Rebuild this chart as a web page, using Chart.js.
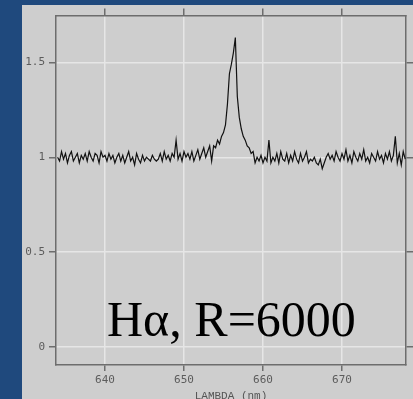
<!DOCTYPE html>
<html>
<head>
<meta charset="utf-8">
<script src="https://cdn.jsdelivr.net/npm/chart.js@4"></script>
<style>
  html, body { margin: 0; padding: 0; }
  body { width: 413px; height: 399px; background: #1f497d; overflow: hidden; position: relative; }
  #panel { position: absolute; left: 22px; top: 5px; width: 391px; height: 394px; background: #cecece; }
  #label { position: absolute; left: 85px; top: 289px; font-family: 'Liberation Serif', serif; font-size: 50px; line-height: 1; color: #000; white-space: nowrap; }
</style>
</head>
<body>
<div id="panel">
  <canvas id="spec"></canvas>
  <div id="label">Hα, R=6000</div>
</div>
<script>
// wavelength grid (nm)
const lambda = [
  634.00, 634.25, 634.50, 634.75, 635.00, 635.25, 635.50, 635.75,
  636.00, 636.25, 636.50, 636.75, 637.00, 637.25, 637.50, 637.75,
  638.00, 638.25, 638.50, 638.75, 639.00, 639.25, 639.50, 639.75,
  640.00, 640.25, 640.50, 640.75, 641.00, 641.25, 641.50, 641.75,
  642.00, 642.25, 642.50, 642.75, 643.00, 643.25, 643.50, 643.75,
  644.00, 644.25, 644.50, 644.75, 645.00, 645.25, 645.50, 645.75,
  646.00, 646.25, 646.50, 646.75, 647.00, 647.25, 647.50, 647.75,
  648.00, 648.25, 648.50, 648.75, 649.00, 649.25, 649.50, 649.75,
  650.00, 650.25, 650.50, 650.75, 651.00, 651.25, 651.50, 651.75,
  652.00, 652.25, 652.50, 652.75, 653.00, 653.25, 653.50, 653.75,
  654.00, 654.25, 654.50, 654.75, 655.00, 655.25, 655.50, 655.75,
  656.00, 656.25, 656.50, 656.75, 657.00, 657.25, 657.50, 657.75,
  658.00, 658.25, 658.50, 658.75, 659.00, 659.25, 659.50, 659.75,
  660.00, 660.25, 660.50, 660.75, 661.00, 661.25, 661.50, 661.75,
  662.00, 662.25, 662.50, 662.75, 663.00, 663.25, 663.50, 663.75,
  664.00, 664.25, 664.50, 664.75, 665.00, 665.25, 665.50, 665.75,
  666.00, 666.25, 666.50, 666.75, 667.00, 667.25, 667.50, 667.75,
  668.00, 668.25, 668.50, 668.75, 669.00, 669.25, 669.50, 669.75,
  670.00, 670.25, 670.50, 670.75, 671.00, 671.25, 671.50, 671.75,
  672.00, 672.25, 672.50, 672.75, 673.00, 673.25, 673.50, 673.75,
  674.00, 674.25, 674.50, 674.75, 675.00, 675.25, 675.50, 675.75,
  676.00, 676.25, 676.50, 676.75, 677.00, 677.25, 677.50, 677.75,
  678.00
];

// normalised flux
const flux = [
  1.00, 0.98, 1.03, 0.99, 1.02, 0.97, 1.01, 1.03,
  0.98, 1.00, 1.02, 0.97, 1.01, 0.99, 1.02, 0.98,
  1.03, 1.00, 0.98, 1.02, 1.01, 0.97, 1.03, 1.00,
  1.01, 0.98, 1.02, 0.99, 1.01, 0.97, 1.00, 1.02,
  0.98, 1.01, 0.97, 1.00, 1.03, 0.98, 1.00, 0.96,
  1.02, 0.99, 0.97, 1.01, 0.98, 1.00, 0.99, 0.98,
  1.01, 0.99, 0.98, 0.99, 1.02, 0.98, 1.03, 0.99,
  1.01, 0.98, 1.02, 1.00, 1.09, 0.99, 1.02, 0.98,
  1.03, 1.00, 1.02, 0.99, 1.03, 0.98, 1.01, 1.04,
  0.99, 1.02, 1.05, 1.00, 1.03, 1.06, 0.98, 1.06,
  1.05, 1.09, 1.07, 1.11, 1.13, 1.17, 1.28, 1.44,
  1.49, 1.55, 1.63, 1.32, 1.21, 1.15, 1.11, 1.09,
  1.06, 1.05, 1.02, 1.03, 0.97, 1.00, 0.98, 1.01,
  0.97, 1.00, 0.98, 1.09, 0.97, 1.00, 0.98, 1.02,
  0.97, 1.03, 0.99, 0.98, 1.02, 0.97, 1.01, 0.98,
  1.03, 0.99, 0.97, 1.02, 0.98, 1.00, 1.03, 0.97,
  0.99, 0.98, 1.00, 0.97, 0.96, 0.99, 0.94, 0.97,
  1.00, 1.02, 0.99, 1.01, 0.98, 1.03, 1.00, 0.98,
  1.02, 0.99, 1.04, 0.98, 1.01, 0.97, 1.03, 1.00,
  0.98, 1.02, 0.99, 1.04, 0.98, 1.00, 0.97, 1.02,
  1.00, 0.98, 1.03, 0.99, 1.01, 0.97, 1.02, 0.99,
  1.03, 0.98, 1.01, 1.11, 0.97, 1.02, 0.96, 1.03,
  0.99
];

const xTicks = [640, 650, 660, 670];
const yTicks = [0, 0.5, 1, 1.5];

const axisColor = '#6d6d6d';
const gridColor = '#e6e6e6';
const tickFont = { family: 'DejaVu Sans Mono', size: 11 };

function fixSize(prop, val) {
  return function (scale) { scale[prop] = val; };
}

function setTicks(list) {
  return function (scale) { scale.ticks = list.map(v => ({ value: v })); };
}

new Chart(document.getElementById('spec'), {
  type: 'line',
  data: {
    datasets: [{
      data: lambda.map((l, i) => ({ x: l, y: flux[i] })),
      borderColor: '#111',
      borderWidth: 1.2,
      pointRadius: 0,
      tension: 0,
      xAxisID: 'x',
      yAxisID: 'y'
    }]
  },
  options: {
    responsive: true,
    maintainAspectRatio: false,
    animation: false,
    layout: { padding: 0 },
    plugins: { legend: { display: false }, tooltip: { enabled: false } },
    scales: {
      x: {
        type: 'linear', position: 'bottom', min: 633.8, max: 678.1,
        afterBuildTicks: setTicks(xTicks),
        afterFit: fixSize('height', 34),
        ticks: { font: tickFont, color: '#5c5c5c', padding: 3, maxRotation: 0 },
        grid: { color: gridColor, lineWidth: 1.5, tickColor: axisColor, tickLength: 6 },
        border: { color: axisColor, width: 1.5 },
        title: {
          display: true, text: 'LAMBDA (nm)', color: '#555',
          font: { family: 'Liberation Mono', size: 11, lineHeight: 0.6 }, padding: 0
        }
      },
      x2: {
        type: 'linear', position: 'top', min: 633.8, max: 678.1,
        afterBuildTicks: setTicks(xTicks),
        afterFit: fixSize('height', 8),
        ticks: { display: false },
        grid: { drawOnChartArea: false, color: axisColor, lineWidth: 1.5, tickLength: 7 },
        border: { color: axisColor, width: 1.5 }
      },
      y: {
        type: 'linear', position: 'left', min: -0.094, max: 1.746,
        afterBuildTicks: setTicks(yTicks),
        afterFit: fixSize('width', 34),
        ticks: { font: tickFont, color: '#5c5c5c', padding: 4, callback: v => String(+v.toFixed(2)) },
        grid: { color: gridColor, lineWidth: 1.5, tickColor: axisColor, tickLength: 7 },
        border: { color: axisColor, width: 1.5 }
      },
      y2: {
        type: 'linear', position: 'right', min: -0.094, max: 1.746,
        afterBuildTicks: setTicks(yTicks),
        afterFit: fixSize('width', 7),
        ticks: { display: false },
        grid: { drawOnChartArea: false, color: axisColor, lineWidth: 1.5, tickLength: 7 },
        border: { color: axisColor, width: 1.5 }
      }
    }
  }
});
</script>
</body>
</html>
